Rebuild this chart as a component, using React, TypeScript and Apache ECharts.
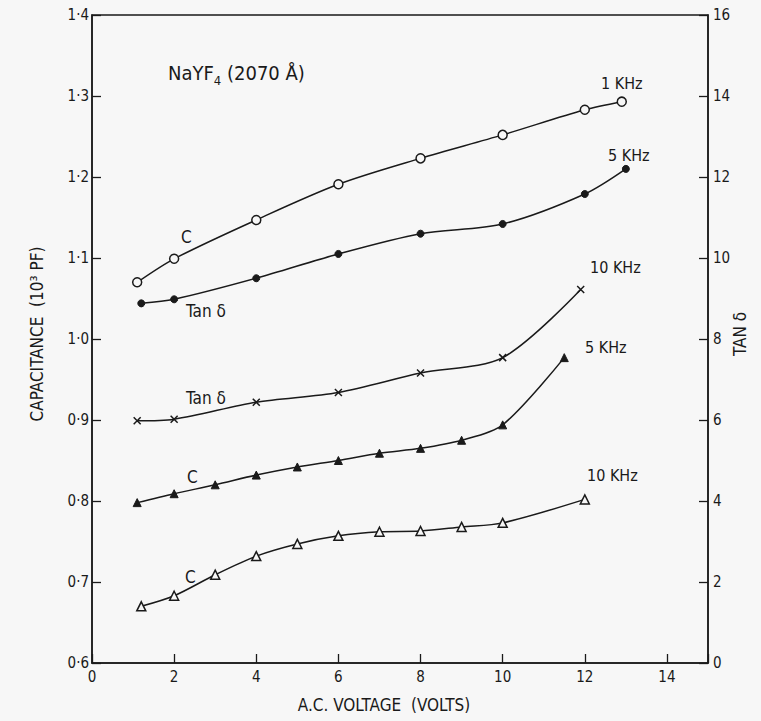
import { useEffect, useRef } from "react";
import * as echarts from "echarts";

// 1 KHz capacitance (open circles), left axis (10^3 pF)
const c1kX = [1.1, 2, 4, 6, 8, 10, 12, 12.9];
const c1kY = [1.07, 1.099, 1.147, 1.191, 1.223, 1.252, 1.283, 1.293];
// 5 KHz tan delta (filled circles), right axis
const t5kX = [1.2, 2, 4, 6, 8, 10, 12, 13];
const t5kY = [8.88, 8.98, 9.5, 10.1, 10.6, 10.84, 11.58, 12.2];
// 10 KHz tan delta (crosses), right axis
const t10kX = [1.1, 2, 4, 6, 8, 10, 11.9];
const t10kY = [5.98, 6.02, 6.44, 6.68, 7.16, 7.54, 9.22];
// 5 KHz capacitance (filled triangles), left axis
const c5kX = [1.1, 2, 3, 4, 5, 6, 7, 8, 9, 10, 11.5];
const c5kY = [0.798, 0.809, 0.82, 0.832, 0.842, 0.85, 0.859, 0.865, 0.875, 0.894, 0.977];
// 10 KHz capacitance (open triangles), left axis
const c10kX = [1.2, 2, 3, 4, 5, 6, 7, 8, 9, 10, 12];
const c10kY = [0.67, 0.683, 0.709, 0.732, 0.747, 0.757, 0.762, 0.763, 0.768, 0.773, 0.802];

const xMin = 0, xMax = 15, xStep = 2;
const capMin = 0.6, capMax = 1.4, capStep = 0.1;
const tanMin = 0, tanMax = 16, tanStep = 2;

const zip = (xs: number[], ys: number[]) => xs.map((x, i) => [x, ys[i]]);

const INK = "#1a1a1a";
const BG = "#f7f7f7";
const FONT = "'DejaVu Sans Condensed', 'Liberation Sans Narrow', 'DejaVu Sans', sans-serif";

export default function App() {
  const ref = useRef<HTMLDivElement>(null);
  useEffect(() => {
    if (!ref.current) return;
    const chart = echarts.init(ref.current, undefined, { renderer: "svg" });
    const lineStyle = { color: INK, width: 1.5 };
    const base = { type: "line", smooth: 0.3, lineStyle, symbolSize: 8, z: 3 };
    const txt = (text: string, x: number, y: number, extra: any = {}) => ({
      type: "text",
      x,
      y,
      style: { text, fill: INK, fontFamily: FONT, fontSize: 16, align: "left", verticalAlign: "middle", ...extra },
    });
    chart.setOption({
      animation: false,
      backgroundColor: BG,
      grid: { left: 92, right: 53, top: 15, bottom: 58, show: true, borderColor: INK, borderWidth: 1.5, backgroundColor: "transparent" },
      xAxis: {
        type: "value",
        min: xMin,
        max: xMax,
        interval: xStep,
        axisLine: { lineStyle: { color: INK, width: 1.5 } },
        axisTick: { inside: true, length: 9, lineStyle: { color: INK, width: 1.3 } },
        axisLabel: { color: INK, fontFamily: FONT, fontSize: 15, margin: 6, formatter: (v: number) => (v === xMax ? "" : String(v)) },
        splitLine: { show: false },
      },
      yAxis: [
        {
          type: "value",
          min: capMin,
          max: capMax,
          interval: capStep,
          axisLine: { show: true, lineStyle: { color: INK, width: 1.5 } },
          axisTick: { show: true, inside: true, length: 9, lineStyle: { color: INK, width: 1.3 } },
          axisLabel: { color: INK, fontFamily: FONT, fontSize: 15, margin: 3, formatter: (v: number) => v.toFixed(1).replace(".", "·") },
          splitLine: { show: false },
        },
        {
          type: "value",
          min: tanMin,
          max: tanMax,
          interval: tanStep,
          position: "right",
          axisLine: { show: true, lineStyle: { color: INK, width: 1.5 } },
          axisTick: { show: true, inside: true, length: 9, lineStyle: { color: INK, width: 1.3 } },
          axisLabel: { color: INK, fontFamily: FONT, fontSize: 15, margin: 5 },
          splitLine: { show: false },
        },
      ],
      series: [
        { ...base, name: "C 1 KHz", yAxisIndex: 0, data: zip(c1kX, c1kY), symbol: "circle", symbolSize: 9, itemStyle: { color: BG, borderColor: INK, borderWidth: 1.5 } },
        { ...base, name: "Tan 5 KHz", yAxisIndex: 1, data: zip(t5kX, t5kY), symbol: "circle", symbolSize: 7, itemStyle: { color: INK, borderColor: INK, borderWidth: 1 } },
        { ...base, name: "Tan 10 KHz", yAxisIndex: 1, data: zip(t10kX, t10kY), symbol: "path://M0,0 L10,10 M10,0 L0,10", symbolSize: 7, itemStyle: { color: "none", borderColor: INK, borderWidth: 1.5 } },
        { ...base, name: "C 5 KHz", yAxisIndex: 0, data: zip(c5kX, c5kY), symbol: "triangle", symbolSize: 8, itemStyle: { color: INK, borderColor: INK, borderWidth: 1 } },
        { ...base, name: "C 10 KHz", yAxisIndex: 0, data: zip(c10kX, c10kY), symbol: "triangle", symbolSize: 9, itemStyle: { color: BG, borderColor: INK, borderWidth: 1.5 } },
      ],
      graphic: [
        {
          type: "text",
          x: 168,
          y: 73,
          style: {
            text: "{a|NaYF}{b|4}{a| (2070 Å)}",
            fill: INK,
            verticalAlign: "middle",
            rich: {
              a: { fontFamily: FONT, fontSize: 20, fill: INK },
              b: { fontFamily: FONT, fontSize: 13, fill: INK, padding: [14, 0, 0, 0] },
            },
          },
        },
        txt("1 KHz", 601, 83),
        txt("5 KHz", 608, 155),
        txt("10 KHz", 590, 267),
        txt("5 KHz", 585, 347),
        txt("10 KHz", 587, 475),
        txt("C", 181, 237, { fontSize: 17 }),
        txt("Tan δ", 186, 311, { fontSize: 17 }),
        txt("Tan δ", 186, 398, { fontSize: 17 }),
        txt("C", 187, 477, { fontSize: 17 }),
        txt("C", 185, 577, { fontSize: 17 }),
        { type: "text", x: 384, y: 705, style: { text: "A.C. VOLTAGE  (VOLTS)", fill: INK, fontFamily: FONT, fontSize: 17, align: "center", verticalAlign: "middle" } },
        { type: "text", x: 37, y: 334, rotation: Math.PI / 2, style: { text: "CAPACITANCE  (10³ PF)", fill: INK, fontFamily: FONT, fontSize: 17, align: "center", verticalAlign: "middle" } },
        { type: "text", x: 740, y: 334, rotation: Math.PI / 2, style: { text: "TAN δ", fill: INK, fontFamily: FONT, fontSize: 17, align: "center", verticalAlign: "middle" } },
      ],
    });
    return () => chart.dispose();
  }, []);
  return <div ref={ref} style={{ position: "fixed", left: 0, top: 0, width: 761, height: 721 }} />;
}
